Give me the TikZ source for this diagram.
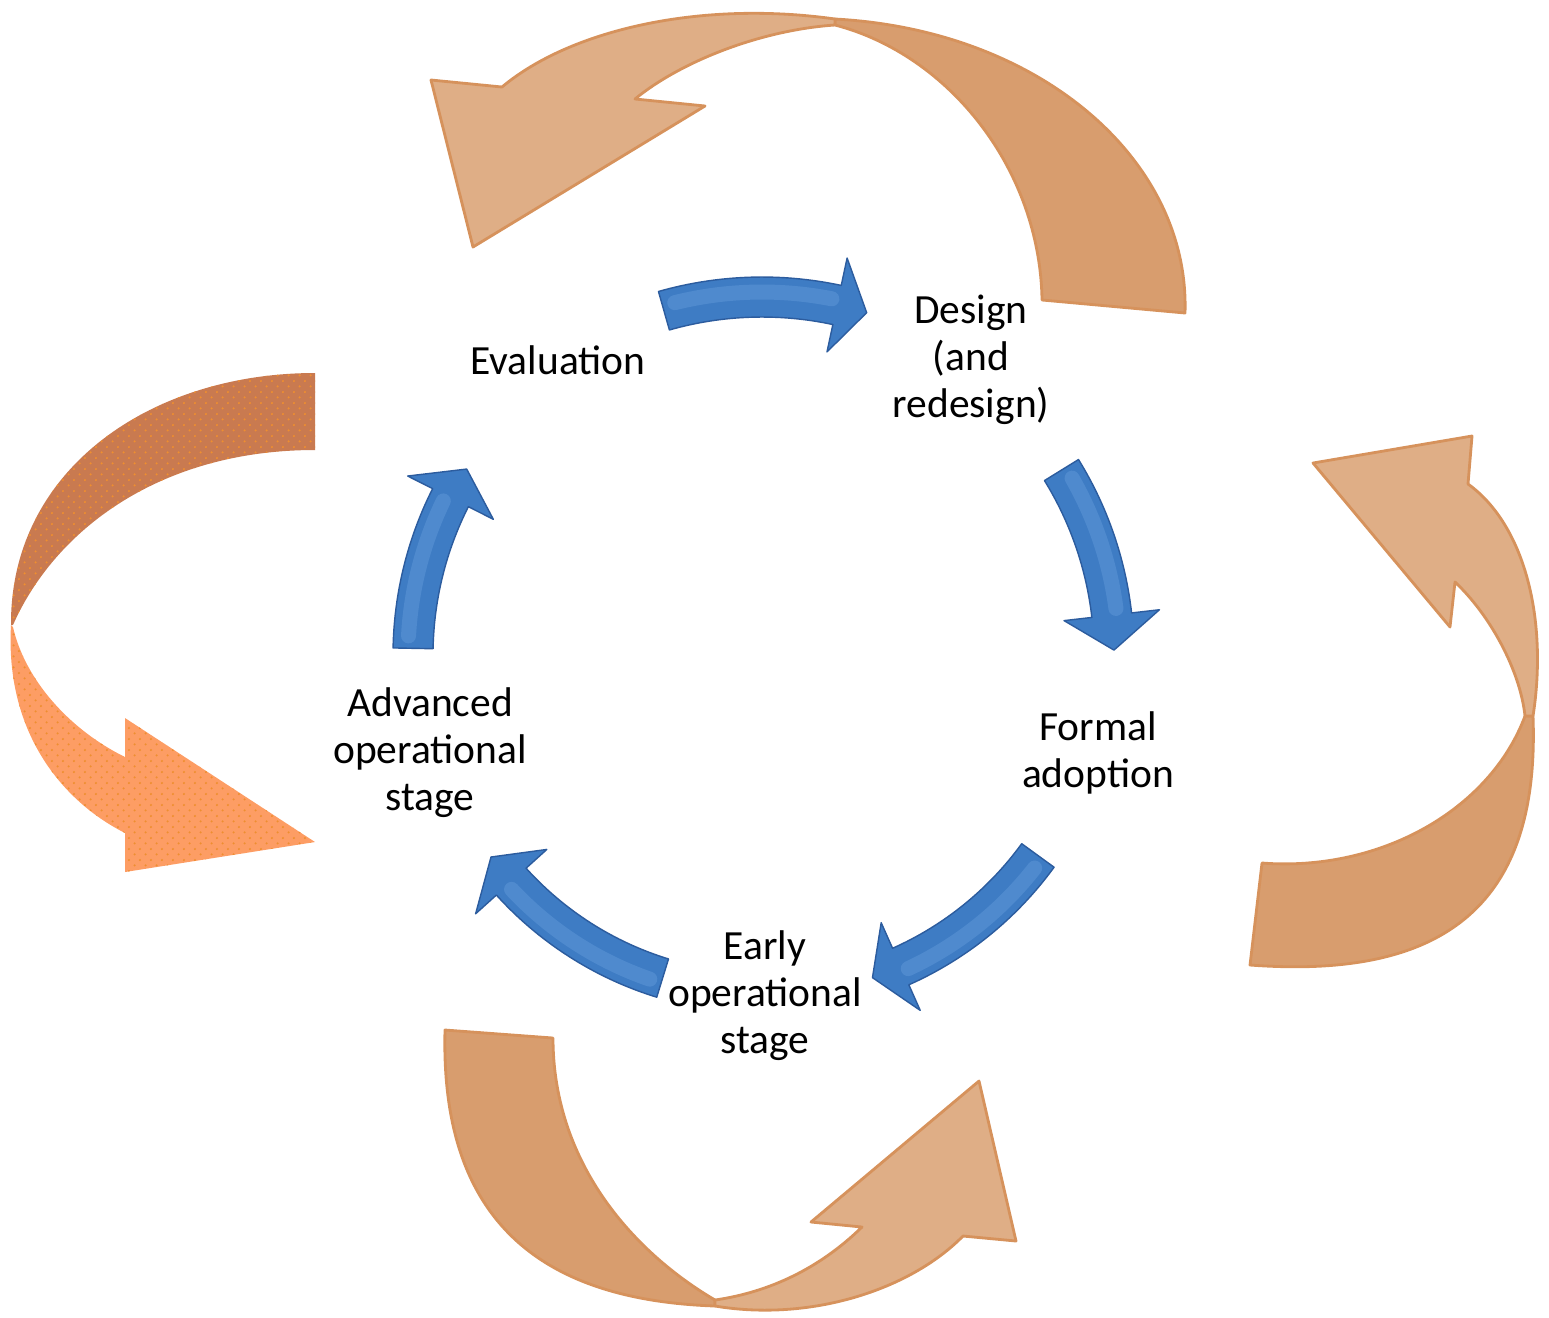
\documentclass[tikz,border=0pt]{standalone}
\usepackage{fontspec}
\setmainfont{Carlito}
\usetikzlibrary{patterns.meta}

\definecolor{ribbondark}{RGB}{216,157,110}
\definecolor{ribbonlight}{RGB}{223,174,134}
\definecolor{ribbonedge}{RGB}{214,146,92}
\definecolor{loopdark}{RGB}{201,122,80}
\definecolor{looplight}{RGB}{253,157,100}
\definecolor{loopdots}{RGB}{238,142,48}
\definecolor{cyclefill}{RGB}{62,124,196}
\definecolor{cycleedge}{RGB}{44,92,158}
\definecolor{cycleshine}{RGB}{112,166,226}

\tikzdeclarepattern{name=ribbondots, type=uncolored,
  tile size={(3.2pt,3.2pt)}, bounding box={(0,0) and (3.2pt,3.2pt)},
  code={\fill (0.8pt,0.8pt) circle (0.35pt); \fill (2.4pt,2.4pt) circle (0.35pt);}}

\tikzset{
  stage/.style={align=center, font=\fontsize{11.8}{13.4}\selectfont},
  cyclearrow/.style={fill=cyclefill, draw=cycleedge, line width=0.4pt, line join=round},
  arrowshine/.style={draw=cycleshine, line width=0.15cm, opacity=0.35, line cap=round},
  ribbon/.style={draw=ribbonedge, line width=0.8pt, line join=round},
  dotted ribbon/.style={postaction={pattern=ribbondots, pattern color=loopdots}}
}

% curved block arrow on the cycle: radius, start angle, head base angle, tip angle
\newcommand{\cyclearrow}[4]{%
  \path[cyclearrow] ({#2}:{#1+20}) arc[start angle=#2, end angle=#3, radius=#1+20]
    -- ({#3}:{#1+48}) -- ({#4}:{#1}) -- ({#3}:{#1-48}) -- ({#3}:{#1-20})
    arc[start angle=#3, end angle=#2, radius=#1-20] -- cycle;
  \draw[arrowshine] ({#2+2}:{#1+5}) arc[start angle=#2+2, end angle=#3-1, radius=#1+5];
}

\begin{document}
\begin{tikzpicture}[x=0.01cm, y=-0.01cm]
\useasboundingbox (0,0) rectangle (1549,1317);

%%% outer ribbons %%%

      %% top
      \path[ribbon, fill=ribbondark] (1042,300)
        .. controls (1040,170) and (950,55) .. (835,25)
        -- (835,19) .. controls (1040,30) and (1190,160) .. (1185,313)
        -- cycle;
      \path[ribbon, fill=ribbonlight] (835,19)
        .. controls (700,0) and (570,30) .. (502,87)
        -- (431,80) -- (473,247) -- (705,106) -- (635,99)
        .. controls (680,62) and (760,30) .. (835,25)
        -- cycle;

      %% right
      \path[ribbon, fill=ribbondark] (1262,863)
        .. controls (1380,872) and (1490,810) .. (1525,716)
        -- (1533,716) .. controls (1540,900) and (1450,980) .. (1250,965)
        -- cycle;
      \path[ribbon, fill=ribbonlight] (1525,716)
        .. controls (1520,670) and (1490,615) .. (1455,582)
        -- (1450,627) -- (1313,463) -- (1472,436) -- (1468,484)
        .. controls (1525,525) and (1548,620) .. (1533,716)
        -- cycle;

      %% bottom
      \path[ribbon, fill=ribbondark] (445,1030)
        .. controls (440,1220) and (540,1300) .. (715,1306)
        -- (715,1300) .. controls (630,1250) and (553,1160) .. (553,1038)
        -- cycle;
      \path[ribbon, fill=ribbonlight] (715,1306)
        .. controls (810,1322) and (910,1290) .. (963,1236)
        -- (1016,1241) -- (979,1081) -- (811,1222) -- (862,1227)
        .. controls (820,1268) and (770,1292) .. (715,1300)
        -- cycle;

      %% left, dotted
      \path[fill=loopdark, dotted ribbon] (315,373)
        .. controls (150,373) and (10,470) .. (11,625)
        -- (13,625) .. controls (55,530) and (160,450) .. (315,450)
        -- cycle;
      \path[fill=looplight, dotted ribbon] (11,625)
        .. controls (5,730) and (60,800) .. (125,833)
        -- (125,872) -- (315,842) -- (125,718) -- (125,757)
        .. controls (70,730) and (25,680) .. (13,627)
        -- cycle;

%%% inner cycle %%%

      \begin{scope}[shift={(762,655)}]
        \cyclearrow{358}{-105.9}{-77.9}{-73.0}
        \cyclearrow{352}{-31.7}{-6.5}{-0.8}
        \cyclearrow{341}{36.0}{66.0}{71.1}
        \cyclearrow{338}{107.1}{137.9}{143.3}
        \cyclearrow{349}{181.1}{206.8}{212.2}
      \end{scope}

      \node[stage] (eval) at (558,360) {Evaluation};
      \node[stage] (design) at (971,360) {Design\\(and\\redesign)};
      \node[stage] (formal) at (1098,753) {Formal\\adoption};
      \node[stage] (early) at (765,996) {Early\\operational\\stage};
      \node[stage] (advanced) at (430,753) {Advanced\\operational\\stage};

\end{tikzpicture}
\end{document}
